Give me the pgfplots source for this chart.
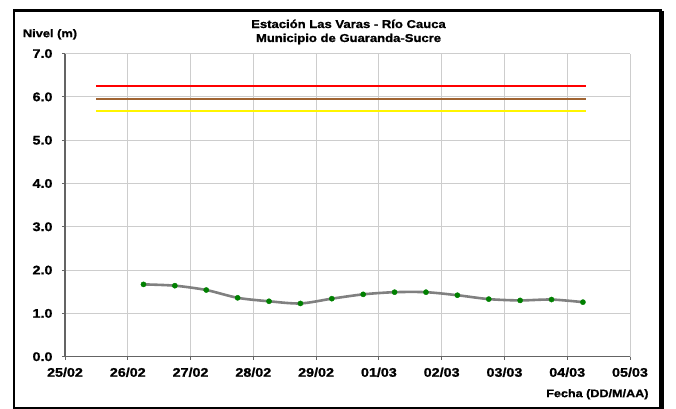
\documentclass[border=0pt]{standalone}
\usepackage{pgfplots}
\pgfplotsset{compat=1.18}
\usepackage{fontspec}
\setmainfont{Liberation Sans}[FakeStretch=1.15, BoldFeatures={FakeBold=1.2}]
\definecolor{axgray}{RGB}{100,100,100}
\definecolor{gridgray}{RGB}{205,205,205}
\definecolor{serie}{RGB}{128,128,128}
\definecolor{mk}{RGB}{0,128,0}
\definecolor{brownl}{RGB}{160,100,50}
\definecolor{yel}{RGB}{255,245,0}
\begin{document}
\begin{tikzpicture}
\path[use as bounding box] (0,0) rectangle (676bp,409bp);
\begin{axis}[
  at={(65bp,52.3bp)}, anchor=origin,
  scale only axis, width=565bp, height=303.1bp,
  xmin=0, xmax=9, ymin=0, ymax=7,
  axis x line*=bottom, axis y line*=left,
  axis line style={-, axgray, line width=1.3bp},
  grid=major, grid style={gridgray, line width=0.9bp},
  xtick={0,1,...,9},
  xticklabels={25/02,26/02,27/02,28/02,29/02,01/03,02/03,03/03,04/03,05/03},
  ytick={0,1,...,7},
  yticklabel style={/pgf/number format/fixed, /pgf/number format/fixed zerofill, /pgf/number format/precision=1, xshift=-6bp},
  /pgf/number format/assume math mode=true,
  tick align=outside, major tick length=3bp,
  tick style={axgray, line width=1bp},
  ticklabel style={font=\fontsize{12.5}{14}\selectfont\bfseries},
  xticklabel style={yshift=-4.5bp},
  clip=false,
]
\addplot[red, line width=1.4bp] coordinates {(0.5,6.25) (8.3,6.25)};
\addplot[brownl, line width=1.4bp] coordinates {(0.5,5.95) (8.3,5.95)};
\addplot[yel, line width=1.6bp] coordinates {(0.5,5.67) (8.3,5.67)};
\addplot[serie, line width=2.6bp, smooth, tension=0.5] coordinates {
(1.25,1.67) (1.75,1.64) (2.25,1.54) (2.75,1.36) (3.25,1.28) (3.75,1.23) (4.25,1.34) (4.75,1.44) (5.25,1.49) (5.75,1.49) (6.25,1.42) (6.75,1.33) (7.25,1.30) (7.75,1.32) (8.25,1.26)};
\addplot[only marks, mark=*, mark size=2.6bp, mk] coordinates {
(1.25,1.67) (1.75,1.64) (2.25,1.54) (2.75,1.36) (3.25,1.28) (3.75,1.23) (4.25,1.34) (4.75,1.44) (5.25,1.49) (5.75,1.49) (6.25,1.42) (6.75,1.33) (7.25,1.30) (7.75,1.32) (8.25,1.26)};
\end{axis}
\draw[line width=2.4bp] (14bp,1.2bp) rectangle (660.5bp,398.5bp);
\fill (659.5bp,0bp) rectangle (663.5bp,397.5bp);
\node[font=\fontsize{11.4}{14}\selectfont\bfseries, align=center] at (348.5bp,409bp-32bp) {Estación Las Varas - Río Cauca\\Municipio de Guaranda-Sucre};
\node[font=\fontsize{11.2}{13}\selectfont\bfseries] at (50bp,409bp-34.3bp) {Nivel (m)};
\node[font=\fontsize{11}{13}\selectfont\bfseries, anchor=east] at (652bp,409bp-394.3bp) {Fecha (DD/M/AA)};
\end{tikzpicture}
\end{document}
